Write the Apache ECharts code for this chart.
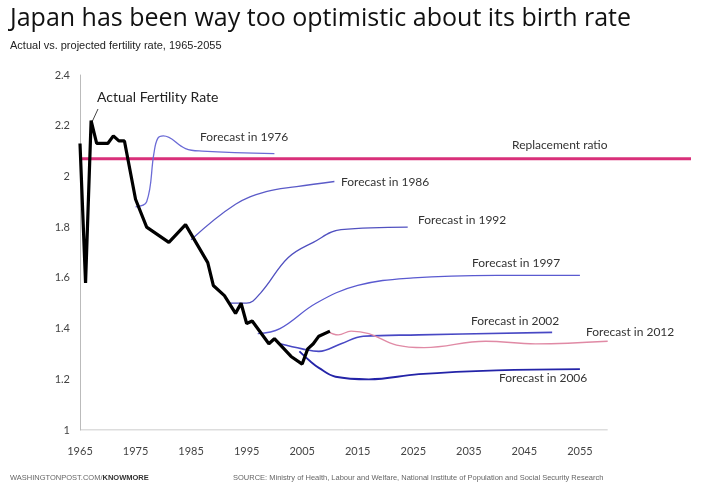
<!DOCTYPE html>
<html><head><meta charset="utf-8">
<script src="https://cdn.jsdelivr.net/npm/echarts@6/dist/echarts.min.js"></script>
<style>html,body{margin:0;padding:0;background:#fff}#c{width:720px;height:492px}</style>
</head><body><div id="c"></div>
<script>
const actual = [[1965,2.13],[1966,1.58],[1967,2.22],[1968,2.13],[1970,2.13],[1971,2.16],[1972,2.14],[1973,2.14],[1975,1.91],[1977,1.80],[1981,1.74],[1984,1.81],[1988,1.66],[1989,1.57],[1991,1.53],[1993,1.46],[1994,1.50],[1995,1.42],[1996,1.43],[1999,1.34],[2000,1.36],[2003,1.29],[2005,1.26],[2006,1.32],[2007,1.34],[2008,1.37],[2010,1.39]];
const f1976 = [[1975,1.88],[1977,1.90],[1978.3,2.09],[1979,2.15],[1980,2.16],[1984,2.11],[1987,2.10],[2000,2.09]];
const f1986 = [[1985,1.75],[1993,1.89],[1998.5,1.94],[2004,1.96],[2010.8,1.98]];
const f1992 = [[1992,1.50],[1995,1.50],[1997.5,1.54],[2002.5,1.68],[2007,1.74],[2012,1.79],[2024,1.80]];
const f1997 = [[1997,1.38],[2001,1.40],[2007.5,1.50],[2015,1.57],[2025,1.60],[2040,1.61],[2055,1.61]];
const f2002 = [[2001,1.34],[2005,1.32],[2008,1.31],[2012,1.34],[2016,1.37],[2026,1.375],[2050,1.385]];
const f2006 = [[2004.5,1.31],[2006.5,1.27],[2008,1.245],[2011,1.21],[2017,1.20],[2026,1.22],[2040,1.235],[2055,1.24]];
const f2012 = [[2009.5,1.39],[2011.5,1.375],[2013.8,1.39],[2017,1.38],[2022,1.335],[2027,1.325],[2038,1.35],[2047,1.34],[2060,1.35]];
const replacement = [[1965,2.07],[2075,2.07]];
const baseline = [[1965,1],[2060,1]];
const yTicks = {1:'1',1.2:'1.2',1.4:'1.4',1.6:'1.6',1.8:'1.8',2:'2',2.2:'2.2',2.4:'2.4'};

const chart = echarts.init(document.getElementById('c'));
const blue = (d,c,w)=>({type:'line',data:d,showSymbol:false,smooth:0.4,lineStyle:{color:c,width:w||1.3},z:2});
chart.setOption({
  animation:false,
  grid:{left:80,right:29,top:75,bottom:62},
  xAxis:{type:'value',min:1965,max:2075,interval:10,splitLine:{show:false},axisLine:{show:false},axisTick:{show:false},
    axisLabel:{color:'#444',fontFamily:'Lato',fontSize:11,margin:16,formatter:v=>v<=2055?String(v):''}},
  yAxis:{type:'value',min:1,max:2.4,interval:0.2,splitLine:{show:false},
    axisLine:{show:true,lineStyle:{color:'#bbb'}},axisTick:{show:false},
    axisLabel:{color:'#444',fontFamily:'Lato',fontSize:11,margin:10,formatter:v=>yTicks[Math.round(v*10)/10]||''}},
  series:[
    {type:'line',data:baseline,showSymbol:false,lineStyle:{color:'#bbb',width:1},silent:true},
    {type:'line',data:replacement,showSymbol:false,lineStyle:{color:'#d9307a',width:3},z:1},
    blue(f1976,'#6b6bd6'),blue(f1986,'#5b5bc8'),blue(f1992,'#5151c0'),blue(f1997,'#5a5ad0'),
    blue(f2002,'#4848c4',1.6),blue(f2006,'#2424a8',1.8),blue(f2012,'#e08aa5',1.3),
    {type:'line',data:actual,showSymbol:false,lineStyle:{color:'#000',width:3.2},z:5}
  ],
  graphic:[
    {type:'text',left:10,top:6,style:{text:'Japan has been way too optimistic about its birth rate',font:'25px "Open Sans", sans-serif',fill:'#111'}},
    {type:'text',left:10,top:40,style:{text:'Actual vs. projected fertility rate, 1965-2055',font:'11px "Liberation Sans", sans-serif',fill:'#222'}},
    {type:'text',left:97,top:90,style:{text:'Actual Fertility Rate',font:'14px Lato',fill:'#222'}},
    {type:'line',shape:{x1:98,y1:109,x2:92,y2:122},style:{stroke:'#444',lineWidth:1}},
    {type:'text',left:200,top:131,style:{text:'Forecast in 1976',font:'12px Lato',fill:'#333'}},
    {type:'text',left:512,top:139,style:{text:'Replacement ratio',font:'12px Lato',fill:'#333'}},
    {type:'text',left:341,top:176,style:{text:'Forecast in 1986',font:'12px Lato',fill:'#333'}},
    {type:'text',left:418,top:214,style:{text:'Forecast in 1992',font:'12px Lato',fill:'#333'}},
    {type:'text',left:472,top:257,style:{text:'Forecast in 1997',font:'12px Lato',fill:'#333'}},
    {type:'text',left:471,top:315,style:{text:'Forecast in 2002',font:'12px Lato',fill:'#333'}},
    {type:'text',left:586,top:326,style:{text:'Forecast in 2012',font:'12px Lato',fill:'#333'}},
    {type:'text',left:499,top:372,style:{text:'Forecast in 2006',font:'12px Lato',fill:'#333'}},
    {type:'text',left:10,top:474,style:{rich:{a:{font:'7.5px "Liberation Sans", sans-serif',fill:'#666'},b:{font:'bold 7.5px "Liberation Sans", sans-serif',fill:'#333'}},text:'{a|WASHINGTONPOST.COM/}{b|KNOWMORE}'}},
    {type:'text',left:233,top:474,style:{text:'SOURCE: Ministry of Health, Labour and Welfare, National Institute of Population and Social Security Research',font:'7.5px "Liberation Sans", sans-serif',fill:'#666'}}
  ]
});
</script></body></html>
